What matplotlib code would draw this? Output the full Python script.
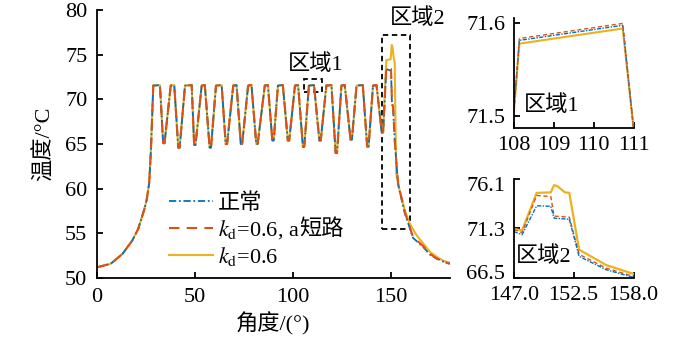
import numpy as np
import matplotlib
matplotlib.use('Agg')
import matplotlib.pyplot as plt
from matplotlib.patches import Rectangle
from matplotlib.ticker import FormatStrFormatter
from matplotlib.transforms import ScaledTranslation

plt.rcParams['font.family'] = ['Liberation Serif', 'Noto Sans CJK SC']
plt.rcParams['mathtext.fontset'] = 'stix'
plt.rcParams['font.size'] = 16

# heating ramp, shared by all three cases
ramp_angle = [0, 7, 13, 18, 21, 24, 25.3, 26.6, 27.5]
ramp_temp = [51.2, 51.6, 52.7, 54.2, 55.5, 57.6, 58.7, 60.6, 64.3]

# plateau (start, end) of every pulse, and the valley after it
peak_start = [28.7, 37.6, 44.9, 53.4, 60.7, 69.5, 77.1, 85.6, 92.3, 101.0,
              108.1, 117.0, 124.7, 132.4, 140.8]
peak_end = [32.1, 39.4, 48.3, 55.0, 63.6, 71.2, 78.8, 87.2, 94.8, 102.6,
            110.7, 119.6, 126.4, 135.6, 142.6]
peak_temp = [71.55, 71.6]
valley_angle = [34.1, 41.8, 49.9, 57.8, 66.0, 73.7, 81.6, 89.8, 97.7, 105.4,
                113.8, 122.1, 129.7, 138.2, 145.6]
valley_temp = [65.1, 64.6, 64.9, 64.6, 65.0, 65.0, 65.0, 65.4, 65.4, 64.7,
               65.4, 64.0, 65.5, 64.7, 66.3]

# region 2 and cooling, different per case
tail_angle_kd = [147.6, 149.8, 150.4, 150.8, 151.4, 151.9, 152.3, 152.7, 154.4,
                 157.0, 159.5, 163.0, 166.3, 170.0, 173.1, 177.0, 180.0]
tail_temp_kd = [74.4, 74.5, 76.1, 75.8, 74.6, 74.1, 66.5, 61.7, 59.8,
                57.6, 56.1, 54.8, 53.9, 52.9, 52.4, 51.9, 51.7]
tail_angle_sc = [147.6, 150.0, 150.5, 151.0, 151.9, 153.6, 157.0, 161.2, 166.3,
                 170.0, 173.1, 177.0, 180.0]
tail_temp_sc = [73.6, 73.4, 69.5, 69.3, 65.4, 60.6, 57.4, 54.6, 53.6,
                52.7, 52.2, 51.8, 51.6]
tail_temp_normal = [73.4, 73.2, 69.4, 69.2, 65.3, 60.5, 57.3, 54.5, 53.5,
                    52.6, 52.2, 51.8, 51.6]

# zoomed region 1
r1_angle = [108.0, 108.14, 110.73, 111.0]
r1_normal = [71.505, 71.581, 71.597, 71.488]
r1_sc = [71.505, 71.583, 71.599, 71.488]
r1_kd = [71.504, 71.5775, 71.5936, 71.488]

# zoomed region 2
r2_angle_kd = [147.0, 147.76, 149.1, 150.4, 150.7, 151.0, 151.7, 152.1, 153.0, 155.5, 158.0]
r2_kd = [71.26, 71.1, 74.75, 74.8, 75.5, 75.4, 74.8, 74.75, 69.25, 67.75, 66.9]
r2_angle = [147.0, 147.76, 149.1, 150.4, 150.7, 152.1, 153.0, 155.5, 158.0]
r2_sc = [71.2, 70.9, 74.5, 74.4, 72.5, 72.4, 68.8, 67.45, 66.66]
r2_normal = [71.0, 70.7, 73.5, 73.45, 72.3, 72.2, 68.6, 67.3, 66.56]

labels = ['正常', '$k_\\mathrm{d}$=0.6, a', '$k_\\mathrm{d}$=0.6']
label_tail = '短路'
c_normal = '#0072BD'
c_sc = '#D95319'
c_kd = '#EDB120'

# assemble the pulse train
pulse_angle = list(ramp_angle)
pulse_temp = list(ramp_temp)
for i in range(len(peak_start)):
    pulse_angle += [peak_start[i], peak_end[i]]
    pulse_temp += peak_temp
    pulse_angle += [valley_angle[i] - 0.35, valley_angle[i] + 0.35]
    pulse_temp += [valley_temp[i], valley_temp[i]]

x_kd = np.array(pulse_angle + tail_angle_kd)
y_kd = np.array(pulse_temp + tail_temp_kd)
x_sc = np.array(pulse_angle + tail_angle_sc)
y_sc = np.array(pulse_temp + tail_temp_sc)
y_normal = np.array(pulse_temp + tail_temp_normal)

dash_sc = (0, (5, 3.5))
dash_normal = (0, (4, 1.5, 1, 1.5))


def style(ax, pad=6):
    ax.spines['top'].set_visible(False)
    ax.spines['right'].set_visible(False)
    for s in ['left', 'bottom']:
        ax.spines[s].set_linewidth(1.3)
    ax.tick_params(direction='in', length=4, width=1.3, pad=pad)


def shift_labels(fig, labs, dys):
    # nudge tick labels vertically (in pixels)
    for lab, dy in zip(labs, dys):
        lab.set_transform(lab.get_transform() +
                          ScaledTranslation(0, dy / 100, fig.dpi_scale_trans))


fig = plt.figure(figsize=(7, 3.37), dpi=100)

ax = fig.add_axes([0.1386, 0.175, 0.504, 0.795])
ax.plot(x_kd, y_kd, color=c_kd, lw=1.5, label=labels[2])
ax.plot(x_sc, y_normal, color=c_normal, lw=1.3, linestyle=dash_normal, label=labels[0])
ax.plot(x_sc, y_sc, color=c_sc, lw=1.5, linestyle=dash_sc, label=labels[1])
ax.set_xlim(0, 180)
ax.set_ylim(50, 80)
ax.set_xticks([0, 50, 100, 150])
ax.set_yticks([50, 55, 60, 65, 70, 75, 80])
ax.set_xlabel('角度/(°)', labelpad=4)
ax.set_ylabel('温度/°C', labelpad=7)
style(ax, pad=7)

ax.add_patch(Rectangle((105.5, 70.8), 9.3, 1.5, fill=False, ec='black',
                       lw=1.3, ls=(0, (3, 2))))
ax.add_patch(Rectangle((145.6, 55.5), 13.9, 21.7, fill=False, ec='black',
                       lw=1.3, ls=(0, (3, 2))))
ax.text(111.4, 73.9, '区域1', ha='center', va='center')
ax.text(163.6, 79.1, '区域2', ha='center', va='center')

h, l = ax.get_legend_handles_labels()
order = [1, 2, 0]
leg = ax.legend([h[i] for i in order], [l[i] for i in order], loc='lower left',
                bbox_to_anchor=(0.16, -0.02), frameon=False, handlelength=2.0,
                handletextpad=0.2, labelspacing=0.18, borderaxespad=0.3)

# inset 1
ax1 = fig.add_axes([0.734, 0.620, 0.171, 0.328])
ax1.plot(r1_angle, r1_kd, color=c_kd, lw=1.5)
ax1.plot(r1_angle, r1_normal, color=c_normal, lw=1.0, linestyle=(0, (3, 1, 1, 1)))
ax1.plot(r1_angle, r1_sc, color=c_sc, lw=1.0, linestyle=(0, (3, 2)))
ax1.set_xlim(108, 111)
ax1.set_ylim(71.4876, 71.6053)
ax1.set_xticks([108, 109, 110, 111])
ax1.set_yticks([71.5, 71.6])
ax1.yaxis.set_major_formatter(FormatStrFormatter('%.1f'))
ax1.text(108.25, 71.5115, '区域1', ha='left', va='center')
style(ax1)

# inset 2
ax2 = fig.add_axes([0.734, 0.175, 0.171, 0.294])
ax2.plot(r2_angle_kd, r2_kd, color=c_kd, lw=1.6)
ax2.plot(r2_angle, r2_sc, color=c_sc, lw=1.0, linestyle=(0, (3, 2)))
ax2.plot(r2_angle, r2_normal, color=c_normal, lw=1.0, linestyle=(0, (3, 1, 1, 1)))
ax2.set_xlim(147, 158)
ax2.set_ylim(66.5, 76.1)
ax2.set_xticks([147.0, 152.5, 158.0])
ax2.set_yticks([66.5, 71.3, 76.1])
ax2.xaxis.set_major_formatter(FormatStrFormatter('%.1f'))
ax2.yaxis.set_major_formatter(FormatStrFormatter('%.1f'))
ax2.text(147.2, 68.6, '区域2', ha='left', va='center')
style(ax2)
shift_labels(fig, ax2.get_yticklabels(), [6, -1, -5])

# the CJK part of the second legend entry, set right after its math part
fig.canvas.draw()
renderer = fig.canvas.get_renderer()
t = leg.get_texts()[1]
bb = t.get_window_extent(renderer)
_, _, descent = t._get_layout(renderer)
fig.text(bb.x1 / fig.bbox.width, (bb.y0 + descent) / fig.bbox.height,
         label_tail, ha='left', va='baseline')

fig.savefig('out.png', dpi=100)
